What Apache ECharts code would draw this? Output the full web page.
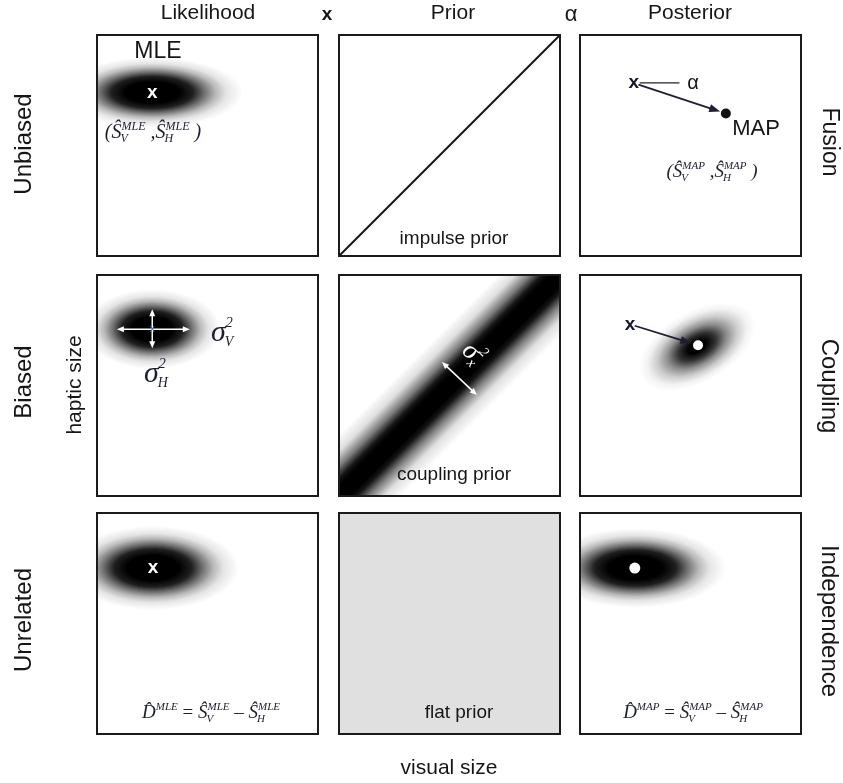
<!DOCTYPE html>
<html><head><meta charset="utf-8">
<script src="https://cdn.jsdelivr.net/npm/echarts@6/dist/echarts.min.js"></script>
<style>html,body{margin:0;padding:0;background:#fff}#c{width:843px;height:783px}</style>
</head><body><div id="c"></div>
<script>
// ---------- data ----------
const colTitles = ['Likelihood', 'Prior', 'Posterior'];
const opSymbols = ['x', 'α'];
const rowLabels = ['Unbiased', 'Biased', 'Unrelated'];
const rowOutcomes = ['Fusion', 'Coupling', 'Independence'];
const axisNames = ['visual size', 'haptic size'];
const priorNames = ['impulse prior', 'coupling prior', 'flat prior'];
const estimateNames = ['MLE', 'MAP'];

// [mean visual, mean haptic, spread visual, spread haptic, tilt deg]
const likelihoodShapes = [[0.25, 0.74, 0.41, 0.16, 0], [0.25, 0.755, 0.31, 0.18, 0], [0.253, 0.751, 0.39, 0.19, 0]];
const posteriorShapes = [[0.53, 0.675, 0.29, 0.16, 30], [0.25, 0.751, 0.41, 0.18, 0]];
const mleEstimates = [[0.25, 0.74], [0.25, 0.755], [0.253, 0.751]];
const mapEstimates = [[0.66, 0.645], [0.534, 0.682], [0.248, 0.751]];
const posteriorFrom = [[0.243, 0.783], [0.226, 0.777]];
const alphaLine = [[0.243, 0.783], [0.45, 0.783]];
const sigmaVArrow = [[0.09, 0.755], [0.42, 0.755]];
const sigmaHArrow = [[0.25, 0.845], [0.25, 0.668]];
const sigmaXArrow = [[0.466, 0.606], [0.624, 0.457]];
const impulsePrior = [[0, 0], [1, 1]];
const couplingAxis = [[0, 0], [1, 1]];
const couplingSpread = [0.2];
const flatPriorRange = [[0, 0], [1, 1]];

// ---------- layout / style ----------
const panelLeft = [97, 339, 580];
const panelTop = [35, 275, 513];
const panelSize = 221;
const SANS = '"Liberation Sans", Arial, Helvetica, sans-serif';
const SERIF = '"Liberation Serif", "Times New Roman", serif';
const INK = '#161616';
const MATH = '#1d1f30';

const chart = echarts.init(document.getElementById('c'), null, {renderer: 'canvas'});

const grids = [], xAxes = [], yAxes = [];
for (let r = 0; r < 3; r++) for (let c = 0; c < 3; c++) {
  const i = r * 3 + c;
  grids.push({left: panelLeft[c], top: panelTop[r], width: panelSize, height: panelSize, show: true,
    borderColor: '#1b1b1b', borderWidth: 2, backgroundColor: 'rgba(0,0,0,0)', z: 5});
  xAxes.push({gridIndex: i, type: 'value', min: 0, max: 1, show: false});
  yAxes.push({gridIndex: i, type: 'value', min: 0, max: 1, show: false});
}

const blobStopsA = [
  {offset: 0, color: 'rgba(0,0,0,1)'}, {offset: 0.3, color: 'rgba(0,0,0,1)'},
  {offset: 0.45, color: 'rgba(0,0,0,0.88)'}, {offset: 0.58, color: 'rgba(0,0,0,0.55)'},
  {offset: 0.7, color: 'rgba(0,0,0,0.28)'}, {offset: 0.82, color: 'rgba(0,0,0,0.1)'},
  {offset: 1, color: 'rgba(0,0,0,0)'}];
const blobStopsB = [
  {offset: 0, color: 'rgba(0,0,0,1)'}, {offset: 0.15, color: 'rgba(0,0,0,1)'},
  {offset: 0.32, color: 'rgba(0,0,0,0.8)'}, {offset: 0.5, color: 'rgba(0,0,0,0.45)'},
  {offset: 0.68, color: 'rgba(0,0,0,0.2)'}, {offset: 0.85, color: 'rgba(0,0,0,0.05)'},
  {offset: 1, color: 'rgba(0,0,0,0)'}];

function blobSeries(panel, shape, stops) {
  return {type: 'custom', xAxisIndex: panel, yAxisIndex: panel, clip: true, silent: true, z: 2,
    data: [shape],
    renderItem(params, api) {
      const c = api.coord([api.value(0), api.value(1)]);
      const s = api.size([api.value(2), api.value(3)]);
      return {type: 'circle', x: c[0], y: c[1], rotation: api.value(4) * Math.PI / 180,
        scaleX: 1, scaleY: s[1] / s[0], shape: {cx: 0, cy: 0, r: s[0]},
        style: {fill: new echarts.graphic.RadialGradient(0.5, 0.5, 0.5, stops)}};
    }};
}

function arrowSeries(panel, pts, o) {
  return {type: 'custom', xAxisIndex: panel, yAxisIndex: panel, z: 6, silent: true,
    data: [[pts[0][0], pts[0][1], pts[1][0], pts[1][1]]], encode: {x: [0, 2], y: [1, 3]},
    renderItem(params, api) {
      const a = api.coord([api.value(0), api.value(1)]), b = api.coord([api.value(2), api.value(3)]);
      const dx = b[0] - a[0], dy = b[1] - a[1], L = Math.hypot(dx, dy);
      const ux = dx / L, uy = dy / L, nx = -uy, ny = ux;
      const s = [a[0] + ux * o.g0, a[1] + uy * o.g0], e = [b[0] - ux * o.g1, b[1] - uy * o.g1];
      const ch = []; let ls = s.slice(), le = e.slice();
      const head = (tip, dir) => ({type: 'polygon', shape: {points: [tip,
        [tip[0] - dir * ux * o.hl + nx * o.hw / 2, tip[1] - dir * uy * o.hl + ny * o.hw / 2],
        [tip[0] - dir * ux * o.hl - nx * o.hw / 2, tip[1] - dir * uy * o.hl - ny * o.hw / 2]]},
        style: {fill: o.color}});
      if (o.end) { ch.push(head(e, 1)); le = [e[0] - ux * o.hl * 0.8, e[1] - uy * o.hl * 0.8]; }
      if (o.start) { ch.push(head(s, -1)); ls = [s[0] + ux * o.hl * 0.8, s[1] + uy * o.hl * 0.8]; }
      ch.unshift({type: 'line', shape: {x1: ls[0], y1: ls[1], x2: le[0], y2: le[1]},
        style: {stroke: o.color, lineWidth: o.lw}});
      return {type: 'group', children: ch};
    }};
}

function markerText(panel, pt, text, color, size, weight) {
  return {type: 'scatter', xAxisIndex: panel, yAxisIndex: panel, z: 7, silent: true,
    symbol: 'circle', symbolSize: 1, itemStyle: {color: 'rgba(0,0,0,0)', opacity: 1}, data: [pt],
    label: {show: true, position: 'inside', formatter: text, color: color, fontSize: size, opacity: 1,
      fontWeight: weight || 'bold', fontFamily: SANS}};
}
function dot(panel, pt, color, size) {
  return {type: 'scatter', xAxisIndex: panel, yAxisIndex: panel, z: 7, silent: true,
    symbol: 'circle', symbolSize: size, itemStyle: {color: color, opacity: 1}, data: [pt]};
}

const series = [];
likelihoodShapes.forEach((s, r) => series.push(blobSeries(r * 3, s, blobStopsA)));
series.push(blobSeries(5, posteriorShapes[0], blobStopsB));
series.push(blobSeries(8, posteriorShapes[1], blobStopsA));
series.push({type: 'line', xAxisIndex: 1, yAxisIndex: 1, data: impulsePrior, symbol: 'none', silent: true,
  lineStyle: {color: INK, width: 2}, z: 3});
series.push({type: 'custom', xAxisIndex: 4, yAxisIndex: 4, clip: true, silent: true, z: 2,
  data: [[couplingAxis[0][0], couplingAxis[0][1], couplingAxis[1][0], couplingAxis[1][1], couplingSpread[0]]],
  encode: {x: [0, 2], y: [1, 3]},
  renderItem(params, api) {
    const a = api.coord([api.value(0), api.value(1)]), b = api.coord([api.value(2), api.value(3)]);
    const ang = Math.atan2(b[1] - a[1], b[0] - a[0]);
    const L = Math.hypot(b[0] - a[0], b[1] - a[1]) * 1.6;
    const W = 2 * api.size([api.value(4), 0])[0];
    return {type: 'rect', x: (a[0] + b[0]) / 2, y: (a[1] + b[1]) / 2, rotation: -ang,
      shape: {x: -L / 2, y: -W / 2, width: L, height: W},
      style: {fill: new echarts.graphic.LinearGradient(0, 0, 0, 1, [
        {offset: 0, color: 'rgba(0,0,0,0)'}, {offset: 0.14, color: 'rgba(0,0,0,0.12)'},
        {offset: 0.26, color: 'rgba(0,0,0,0.5)'}, {offset: 0.36, color: 'rgba(0,0,0,0.92)'},
        {offset: 0.42, color: 'rgba(0,0,0,1)'}, {offset: 0.58, color: 'rgba(0,0,0,1)'},
        {offset: 0.64, color: 'rgba(0,0,0,0.92)'}, {offset: 0.74, color: 'rgba(0,0,0,0.5)'},
        {offset: 0.86, color: 'rgba(0,0,0,0.12)'}, {offset: 1, color: 'rgba(0,0,0,0)'}])}};
  }});
series.push({type: 'custom', xAxisIndex: 7, yAxisIndex: 7, silent: true, z: 1,
  data: [[flatPriorRange[0][0], flatPriorRange[0][1], flatPriorRange[1][0], flatPriorRange[1][1]]],
  encode: {x: [0, 2], y: [1, 3]},
  renderItem(params, api) {
    const a = api.coord([api.value(0), api.value(1)]), b = api.coord([api.value(2), api.value(3)]);
    return {type: 'rect', shape: {x: a[0], y: b[1], width: b[0] - a[0], height: a[1] - b[1]},
      style: {fill: '#e0e0e0'}};
  }});
const darkArrow = {color: '#1e2030', lw: 1.8, hl: 11, hw: 8};
series.push(arrowSeries(2, alphaLine, {color: '#1e2030', lw: 1.3, hl: 0, hw: 0, g0: 6, g1: 0}));
series.push(arrowSeries(2, [posteriorFrom[0], mapEstimates[0]], Object.assign({g0: 5, g1: 6, end: true}, darkArrow)));
series.push(arrowSeries(5, [posteriorFrom[1], mapEstimates[1]], Object.assign({g0: 5, g1: 7, end: true}, darkArrow)));
const whiteArrow = {color: '#ffffff', lw: 1.5, hl: 7, hw: 6, g0: 0, g1: 0, start: true, end: true};
series.push(arrowSeries(3, sigmaVArrow, whiteArrow));
series.push(arrowSeries(3, sigmaHArrow, whiteArrow));
series.push(arrowSeries(4, sigmaXArrow, whiteArrow));
series.push(markerText(0, mleEstimates[0], 'x', '#ffffff', 19));
series.push(markerText(3, mleEstimates[1], 'x', '#4a6a9a', 10, 'normal'));
series.push(markerText(6, mleEstimates[2], 'x', '#ffffff', 19));
series.push(markerText(2, posteriorFrom[0], 'x', '#141a2a', 19));
series.push(markerText(5, posteriorFrom[1], 'x', '#141a2a', 19));
series.push(dot(2, mapEstimates[0], '#111111', 10));
series.push(dot(5, mapEstimates[1], '#ffffff', 10));
series.push(dot(8, mapEstimates[2], '#ffffff', 11));

// ---------- text ----------
const mctx = document.createElement('canvas').getContext('2d');
function textW(t, f) { mctx.font = f; return mctx.measureText(t).width; }
function txt(text, x, y, size, o) {
  o = o || {};
  return {type: 'text', x: x, y: y, rotation: o.rot || 0, z: 100, silent: true,
    style: {text: text, fontSize: size, fontFamily: o.family || SANS, fontWeight: o.weight || 'normal',
      fontStyle: o.style || 'normal', fill: o.color || INK,
      align: 'center', verticalAlign: 'middle', textAlign: 'center', textVerticalAlign: 'middle'}};
}
function mathExpr(parts, ax, ay, size, color, align, rotation, ratio) {
  ratio = ratio || 0.58;
  const bf = 'italic ' + size + 'px ' + SERIF, uf = size + 'px ' + SERIF;
  const sf = 'italic ' + Math.round(size * ratio) + 'px ' + SERIF;
  const items = []; let x = 0;
  for (const p of parts) {
    if (p.b) { const f = p.up ? uf : bf; items.push({t: p.b, x: x, y: 0, f: f}); x += textW(p.b, f); }
    let sw = 0;
    if (p.sup) { items.push({t: p.sup, x: x, y: -size * 0.32, f: sf}); sw = Math.max(sw, textW(p.sup, sf)); }
    if (p.sub) { items.push({t: p.sub, x: x - 1, y: size * 0.3, f: sf}); sw = Math.max(sw, textW(p.sub, sf)); }
    x += sw;
  }
  const off = align === 'center' ? -x / 2 : 0;
  return {type: 'group', x: ax, y: ay, rotation: rotation || 0, z: 100, silent: true,
    children: items.map(it => ({type: 'text', x: it.x + off, y: it.y, z: 100,
      style: {text: it.t, font: it.f, fill: color, align: 'left', verticalAlign: 'middle',
        textAlign: 'left', textVerticalAlign: 'middle'}}))};
}
const S = '\u015C', D = 'D\u0302';
function pairParts(est) { return [{b: '(' + S, sup: est, sub: 'V'}, {b: ' ,' + S, sup: est, sub: 'H'}, {b: ' )'}]; }
function diffParts(est) {
  return [{b: D, sup: est}, {b: ' = ', up: true}, {b: S, sup: est, sub: 'V'},
    {b: ' \u2013 ', up: true}, {b: S, sup: est, sub: 'H'}];
}

const graphics = [
  txt(colTitles[0], 208, 13, 21), txt(opSymbols[0], 327, 15, 19, {weight: 'bold'}),
  txt(colTitles[1], 453, 13, 21), txt(opSymbols[1], 571, 15, 22),
  txt(colTitles[2], 690, 13, 21),
  txt(rowLabels[0], 24, 144, 24, {rot: Math.PI / 2}),
  txt(rowLabels[1], 24, 382, 24, {rot: Math.PI / 2}),
  txt(rowLabels[2], 24, 620, 24, {rot: Math.PI / 2}),
  txt(axisNames[1], 75, 385, 21, {rot: Math.PI / 2}),
  txt(axisNames[0], 449, 768, 21),
  txt(rowOutcomes[0], 829, 142, 23, {rot: -Math.PI / 2}),
  txt(rowOutcomes[1], 829, 386, 24, {rot: -Math.PI / 2}),
  txt(rowOutcomes[2], 829, 621, 24, {rot: -Math.PI / 2}),
  txt(estimateNames[0], 158, 52, 23),
  txt(estimateNames[1], 756, 129, 22),
  txt(priorNames[0], 454, 239, 19),
  txt(priorNames[1], 454, 475, 19),
  txt(priorNames[2], 459, 713, 19),
  txt('α', 693, 83, 20),
  mathExpr(pairParts('MLE'), 153, 133, 20, MATH, 'center'),
  mathExpr(pairParts('MAP'), 712, 172, 19, MATH, 'center'),
  mathExpr(diffParts('MLE'), 211, 713, 19, MATH, 'center'),
  mathExpr(diffParts('MAP'), 693, 713, 19, MATH, 'center'),
  mathExpr([{b: 'σ', sup: '2', sub: 'V'}], 211, 333, 30, MATH, 'left', 0, 0.45),
  mathExpr([{b: 'σ', sup: '2', sub: 'H'}], 144, 374, 30, MATH, 'left', 0, 0.45),
  mathExpr([{b: 'σ', sup: '2', sub: 'x'}], 473, 354, 27, '#ffffff', 'center', -Math.PI / 4, 0.5)
];

chart.setOption({
  animation: false,
  backgroundColor: '#ffffff',
  grid: grids, xAxis: xAxes, yAxis: yAxes,
  series: series,
  graphic: {elements: graphics}
});
</script></body></html>
